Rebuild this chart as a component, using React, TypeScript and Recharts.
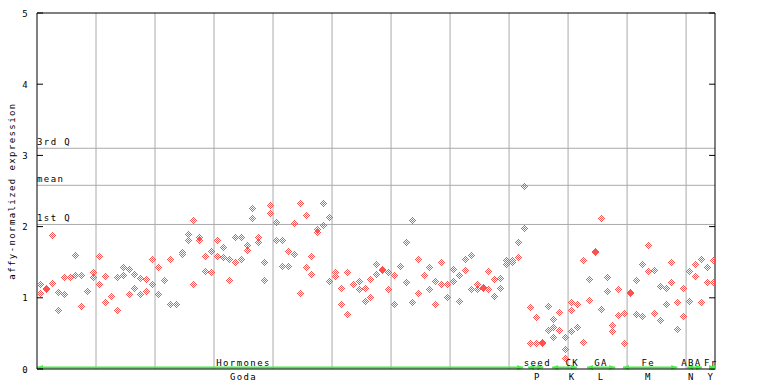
import React from 'react';
import { ScatterChart, Scatter, XAxis, YAxis, ReferenceLine, ReferenceDot } from 'recharts';

const FONT = '"DejaVu Sans Mono", monospace';
const GREEN = '#44ee44';
const GRID = '#aaaaaa';
const POINT = '#ff5050';

// one column per sample; two replicate values per sample
const rep1 = [
  1.18, 1.12, 1.88, 1.08, 1.29, 1.29, 1.60, 1.32, 1.09, 1.35,
  1.58, 1.30, 1.02, 1.29, 1.43, 1.40, 1.33, 1.27, 1.26, 1.54,
  1.42, 1.25, 1.54, 0.91, 1.64, 1.89, 2.08, 1.85, 1.58, 1.65,
  1.80, 1.71, 1.54, 1.85, 1.84, 1.74, 2.25, 1.84, 1.50, 2.29,
  2.06, 1.80, 1.65, 2.04, 2.32, 2.16, 1.58, 1.96, 2.33, 2.13,
  1.35, 1.13, 1.35, 1.18, 1.23, 1.13, 1.26, 1.47, 1.39, 1.35,
  1.32, 1.44, 1.77, 2.09, 1.54, 1.32, 1.42, 1.23, 1.49, 1.19,
  1.40, 1.32, 1.54, 1.60, 1.19, 1.13, 1.37, 1.26, 1.27, 1.53,
  1.53, 1.78, 2.56, 0.87, 0.73, 0.37, 0.88, 0.70, 0.80, 0.44,
  0.94, 0.91, 1.53, 1.26, 1.64, 2.11, 1.29, 0.61, 1.12, 0.78,
  1.06, 1.25, 1.47, 1.74, 1.39, 1.16, 1.13, 1.49, 0.94, 1.13,
  1.37, 1.47, 1.54, 1.43, 1.53,
];
const rep2 = [
  1.06, 1.13, 1.20, 0.82, 1.04, 1.29, 1.32, 0.88, 1.09, 1.29,
  1.19, 0.94, 1.02, 0.82, 1.32, 1.04, 1.13, 1.04, 1.09, 1.18,
  1.04, 1.25, 0.91, 0.91, 1.61, 1.81, 1.19, 1.81, 1.37, 1.36,
  1.58, 1.57, 1.25, 1.49, 1.54, 1.67, 2.12, 1.77, 1.25, 2.19,
  1.80, 1.44, 1.44, 1.61, 1.06, 1.42, 1.33, 1.92, 2.01, 1.23,
  1.30, 0.91, 0.77, 1.18, 1.12, 0.95, 1.01, 1.33, 1.40, 1.11,
  0.91, 1.44, 1.22, 0.94, 1.06, 1.32, 1.12, 0.91, 1.18, 1.01,
  1.23, 0.95, 1.39, 1.12, 1.11, 1.14, 1.11, 1.02, 1.13, 1.47,
  1.50, 1.57, 1.98, 0.36, 0.36, 0.36, 0.54, 0.44, 0.54, 0.27,
  0.82, 0.58, 0.37, 0.96, 1.65, 0.84, 1.09, 0.53, 0.75, 0.36,
  1.07, 0.77, 0.74, 1.37, 0.78, 0.68, 0.91, 1.22, 0.56, 0.74,
  0.95, 1.30, 0.94, 1.22, 1.22,
];
// samples that show a third replicate
const extraSamples = [87, 89, 90];
const extraValues = [0.58, 0.15, 0.53];

// sample groups along the bottom (in sample-column units)
const groupNames = ['Hormones', 'seed', 'CK', 'GA', 'Fe', 'ABA', 'Fr'];
const groupCodes = ['Goda', 'P', 'K', 'L', 'M', 'N', 'Y'];
const groupStart = [0, 83.2, 87.3, 93.2, 99.3, 110.2, 114.0];
const groupEnd = [82.4, 85.8, 91.5, 98.0, 108.5, 112.7, 114.9];
const groupLabelAt = [35.0, 84.8, 90.7, 95.6, 103.6, 110.9, 114.2];

const quartileNames = ['3rd Q', 'mean', '1st Q'];
const quartileValues = [3.10, 2.58, 2.03];

const yTicks = [0, 1, 2, 3, 4, 5];
const xGridTicks = [10, 20, 30, 40, 50, 60, 70, 80, 90, 100, 110];
const X_MAX = 114.9;
const COLUMN_OFFSET = 0.6;
const RIGHT_TICK_LEN = 1.0; // in sample-column units

const points: { x: number; y: number }[] = [];
rep1.forEach((v, i) => points.push({ x: i + COLUMN_OFFSET, y: v }));
rep2.forEach((v, i) => points.push({ x: i + COLUMN_OFFSET, y: v }));
extraSamples.forEach((s, i) => points.push({ x: s + COLUMN_OFFSET, y: extraValues[i] }));

// checkered pixel diamond
const DIAMOND_CELLS: [number, number][] = [];
for (let dx = -3; dx <= 3; dx++) {
  for (let dy = -3; dy <= 3; dy++) {
    const d = Math.abs(dx) + Math.abs(dy);
    if (d <= 3 && d % 2 === 1) DIAMOND_CELLS.push([dx, dy]);
  }
}

const Diamond = (props: any) => {
  const { cx, cy } = props;
  if (cx == null || cy == null) return null;
  const px = Math.floor(cx);
  const py = Math.floor(cy);
  return (
    <g shapeRendering="crispEdges">
      {DIAMOND_CELLS.map(([dx, dy], i) => (
        <rect key={i} x={px + dx} y={py + dy} width={1} height={1} fill={POINT} />
      ))}
    </g>
  );
};

const LeftTick = (props: any) => {
  const { x, y, payload } = props;
  return (
    <g>
      <line x1={x} y1={y} x2={x + 6} y2={y} stroke="#000" />
      <text x={x - 8} y={y + 3.5} textAnchor="end" fontFamily={FONT} fontSize={9} letterSpacing={1.4} fill="#000">
        {payload.value}
      </text>
    </g>
  );
};

const YTitle = (props: any) => {
  const vb = props.viewBox || {};
  const cx = vb.x + 15;
  const cy = vb.y + vb.height / 2;
  return (
    <text
      x={cx}
      y={cy}
      transform={`rotate(-90 ${cx} ${cy})`}
      textAnchor="middle"
      fontFamily={FONT}
      fontSize={9}
      letterSpacing={1.4}
      fill="#000"
    >
      affy-normalized expression
    </text>
  );
};

const makeQuartileLabel = (name: string) => (props: any) => {
  const vb = props.viewBox || {};
  return (
    <text x={vb.x} y={vb.y - 3} fontFamily={FONT} fontSize={9} letterSpacing={1.4} fill="#000">
      {name}
    </text>
  );
};

const GroupArrow = (props: any) => {
  const { x1, y1, x2 } = props;
  if (x1 == null) return null;
  const y = y1 - 1.5;
  return (
    <g>
      <line x1={x1} y1={y} x2={x2} y2={y} stroke={GREEN} strokeWidth={2} />
      <path d={`M${x1},${y} l6,-2.5 l0,5 z`} fill={GREEN} />
      <path d={`M${x2},${y} l-6,-2.5 l0,5 z`} fill={GREEN} />
    </g>
  );
};

const makeGroupLabel = (top: string, bottom: string) => (props: any) => {
  const { cx, cy } = props;
  if (cx == null) return null;
  return (
    <g>
      <text x={cx} y={cy - 3.5} textAnchor="middle" fontFamily={FONT} fontSize={9} letterSpacing={1.4} fill="#000">
        {top}
      </text>
      <text x={cx} y={cy + 10.5} textAnchor="middle" fontFamily={FONT} fontSize={9} letterSpacing={1.4} fill="#000">
        {bottom}
      </text>
    </g>
  );
};

export default function App() {
  return (
    <div style={{ position: 'absolute', left: 0, top: 0, background: '#fff' }}>
      <ScatterChart width={768} height={384} margin={{ top: 13, right: 53, bottom: 0, left: 0 }}>
        <XAxis
          type="number"
          dataKey="x"
          domain={[0, X_MAX]}
          ticks={xGridTicks}
          tick={false}
          tickLine={false}
          axisLine={{ stroke: '#000' }}
          height={15}
          allowDataOverflow
        />
        <YAxis
          yAxisId="left"
          type="number"
          dataKey="y"
          domain={[0, 5]}
          ticks={yTicks}
          tick={<LeftTick />}
          tickSize={0}
          tickMargin={0}
          tickLine={false}
          axisLine={{ stroke: '#000' }}
          width={37}
          allowDataOverflow
          label={{ content: YTitle }}
        />
        {xGridTicks.map((t) => (
          <ReferenceLine key={'g' + t} yAxisId="left" x={t} stroke={GRID} strokeWidth={1} />
        ))}
        {quartileValues.map((q, i) => (
          <ReferenceLine
            key={quartileNames[i]}
            yAxisId="left"
            y={q}
            stroke={GRID}
            strokeWidth={1}
            label={{ content: makeQuartileLabel(quartileNames[i]) }}
          />
        ))}
        <ReferenceLine yAxisId="left" y={5} stroke="#000" />
        <ReferenceLine yAxisId="left" x={X_MAX} stroke="#000" />
        {yTicks.map((t) => (
          <ReferenceLine
            key={'rt' + t}
            yAxisId="left"
            segment={[
              { x: X_MAX - RIGHT_TICK_LEN, y: t },
              { x: X_MAX, y: t },
            ]}
            stroke="#000"
          />
        ))}
        <Scatter yAxisId="left" data={points} shape={<Diamond />} isAnimationActive={false} />
        {groupNames.map((g, i) => (
          <ReferenceLine
            key={'seg' + g}
            yAxisId="left"
            segment={[
              { x: groupStart[i], y: 0 },
              { x: groupEnd[i], y: 0 },
            ]}
            shape={GroupArrow}
            ifOverflow="visible"
          />
        ))}
        {groupNames.map((g, i) => (
          <ReferenceDot
            key={'lab' + g}
            yAxisId="left"
            x={groupLabelAt[i]}
            y={0}
            r={0}
            shape={makeGroupLabel(g, groupCodes[i])}
            ifOverflow="visible"
          />
        ))}
      </ScatterChart>
    </div>
  );
}
